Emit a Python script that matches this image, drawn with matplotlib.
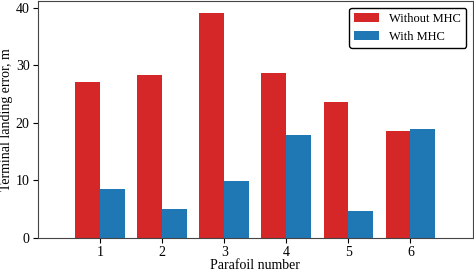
import numpy as np
import matplotlib.pyplot as plt

plt.rcParams['font.family'] = ['Liberation Serif', 'DejaVu Serif']
plt.rcParams['mathtext.fontset'] = 'stix'

parafoils = [1, 2, 3, 4, 5, 6]
without_mhc = [27.1, 28.4, 39.2, 28.7, 23.6, 18.6]
with_mhc = [8.5, 5.0, 9.9, 17.8, 4.7, 18.9]

x = np.array(parafoils)
w = 0.4

fig = plt.figure(figsize=(4.74, 2.74), dpi=100)
ax = fig.add_axes([0.080, 0.133, 0.917, 0.862])
ax.bar(x - w/2, without_mhc, w, color='#d62728', label='Without MHC')
ax.bar(x + w/2, with_mhc, w, color='#1f77b4', label='With MHC')

ax.set_xlim(0, 7)
ax.set_xticks(x)
ax.set_yticks([0, 10, 20, 30, 40])
ax.tick_params(labelsize=10, pad=2.5)
ax.set_xlabel('Parafoil number', fontsize=10, labelpad=0)
ax.set_ylabel('Terminal landing error, m', fontsize=10, labelpad=2)
for s in ax.spines.values():
    s.set_color('#444444')

leg = ax.legend(loc='upper right', fontsize=9, edgecolor='black', framealpha=1)

fig.savefig('out.png', dpi=100)
